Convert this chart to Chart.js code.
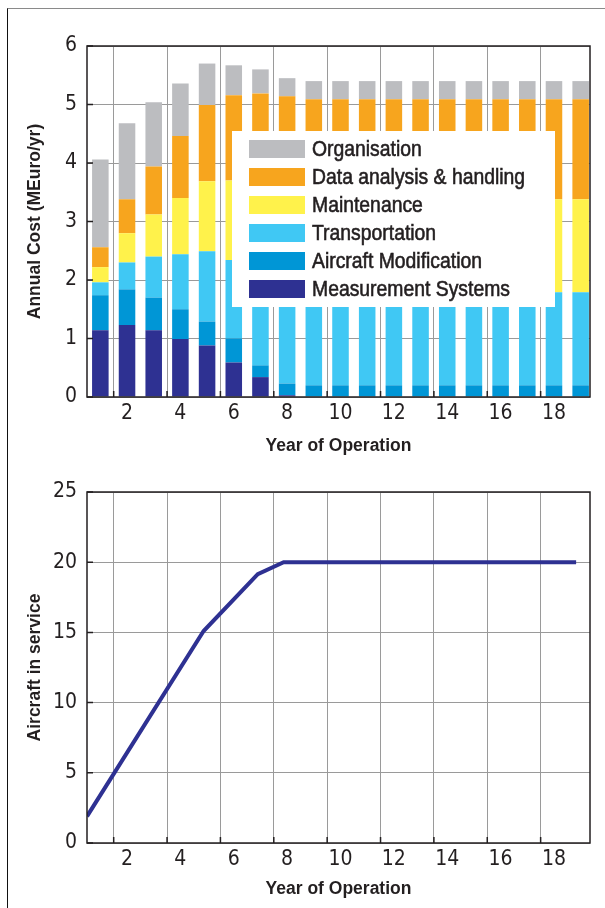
<!DOCTYPE html>
<html>
<head>
<meta charset="utf-8">
<script src="https://cdn.jsdelivr.net/npm/chart.js@4.4.1/dist/chart.umd.min.js"></script>
<style>
  html, body { margin: 0; padding: 0; background: #fff; }
  #page { position: relative; width: 605px; height: 908px; overflow: hidden; background: #fff; }
  #frame { position: absolute; left: 7px; top: 8px; right: -2px; bottom: -2px;
           border-left: 1.5px solid #111; border-top: 1.5px solid #8a8a8a; }
  #costWrap { position: absolute; left: 0; top: 0; width: 605px; height: 465px; }
  #aircraftWrap { position: absolute; left: 0; top: 465px; width: 605px; height: 443px; }
</style>
</head>
<body>
<div id="page">
  <div id="frame"></div>
  <div id="costWrap"><canvas id="costChart" width="605" height="465"></canvas></div>
  <div id="aircraftWrap"><canvas id="aircraftChart" width="605" height="443"></canvas></div>
</div>
<script>
// Year of operation (one bar per year)
const years = [1, 2, 3, 4, 5, 6, 7, 8, 9, 10, 11, 12, 13, 14, 15, 16, 17, 18, 19];

// Annual cost per category, MEuro/yr
const measurementSystems = [1.14, 1.23, 1.14, 0.99, 0.88, 0.59, 0.34, 0.03, 0, 0, 0, 0, 0, 0, 0, 0, 0, 0, 0];
const aircraftModification = [0.60, 0.61, 0.56, 0.51, 0.41, 0.41, 0.20, 0.20, 0.20, 0.20, 0.20, 0.20, 0.20, 0.20, 0.20, 0.20, 0.20, 0.20, 0.20];
const transportation = [0.22, 0.46, 0.70, 0.94, 1.20, 1.34, 1.50, 1.57, 1.59, 1.59, 1.59, 1.59, 1.59, 1.59, 1.59, 1.59, 1.59, 1.59, 1.59];
const maintenance = [0.26, 0.50, 0.72, 0.96, 1.20, 1.36, 1.50, 1.58, 1.59, 1.59, 1.59, 1.59, 1.59, 1.59, 1.59, 1.59, 1.59, 1.59, 1.59];
const dataAnalysis = [0.34, 0.58, 0.82, 1.06, 1.30, 1.46, 1.65, 1.76, 1.71, 1.71, 1.71, 1.71, 1.71, 1.71, 1.71, 1.71, 1.71, 1.71, 1.71];
const organisation = [1.50, 1.30, 1.10, 0.90, 0.71, 0.51, 0.41, 0.31, 0.31, 0.31, 0.31, 0.31, 0.31, 0.31, 0.31, 0.31, 0.31, 0.31, 0.31];

// Aircraft in service (line breakpoints)
const aircraftYears = [0.5, 4.87, 6.9, 7.87, 18.83];
const aircraftCount = [1.9, 15.1, 19.15, 20, 20];

// Axis ticks: grid lines sit half a year before the labelled even years
const gridYears = [1.5, 3.5, 5.5, 7.5, 9.5, 11.5, 13.5, 15.5, 17.5];
const xTickLabels = ['2', '4', '6', '8', '10', '12', '14', '16', '18'];

const TICK_FONT = '"DejaVu Sans Condensed", "Liberation Sans", sans-serif';
const TITLE_FONT = '"Liberation Sans", Arial, sans-serif';
const TEXT = '#231F20';
const GRID = '#9a9a9a';

Chart.defaults.font.family = TICK_FONT;
Chart.defaults.color = TEXT;

// Plot frame plus the short inward tick marks on the left and bottom
const plotFrame = {
    id: 'plotFrame',
    afterDatasetsDraw(chart) {
        const ctx = chart.ctx;
        const a = chart.chartArea;
        const xs = chart.scales.x;
        const ys = chart.scales.y;
        ctx.save();
        ctx.strokeStyle = TEXT;
        ctx.lineWidth = 1.5;
        ctx.beginPath();
        xs.ticks.forEach((t) => {
            const px = xs.getPixelForValue(t.value);
            ctx.moveTo(px, a.bottom);
            ctx.lineTo(px, a.bottom - 6);
        });
        ys.ticks.forEach((t) => {
            const py = ys.getPixelForValue(t.value);
            ctx.moveTo(a.left, py);
            ctx.lineTo(a.left + 6, py);
        });
        ctx.stroke();
        ctx.strokeRect(a.left, a.top, a.right - a.left, a.bottom - a.top);
        ctx.restore();
    },
};

// Legend box drawn inside the plot, top item = top of the stack
const insideLegend = {
    id: 'insideLegend',
    afterDatasetsDraw(chart, args, opts) {
        if (!opts.display) return;
        const ctx = chart.ctx;
        ctx.save();
        ctx.fillStyle = '#fff';
        ctx.fillRect(opts.left, opts.top, opts.width, opts.height);
        ctx.font = opts.fontSize + 'px ' + TITLE_FONT;
        ctx.textBaseline = 'middle';
        const items = chart.data.datasets.slice().reverse();
        items.forEach((ds, i) => {
            const y = opts.top + opts.firstRow + i * opts.rowHeight;
            ctx.fillStyle = ds.backgroundColor;
            ctx.fillRect(opts.left + 17, y - opts.swatchH / 2, opts.swatchW, opts.swatchH);
            // narrow the face a little to get the condensed look of the original
            ctx.save();
            ctx.translate(opts.left + 80, y + 1);
            ctx.scale(opts.squeeze, 1);
            ctx.fillStyle = TEXT;
            ctx.strokeStyle = TEXT;
            ctx.lineWidth = 0.6;
            ctx.fillText(ds.label, 0, 0);
            ctx.strokeText(ds.label, 0, 0);
            ctx.restore();
        });
        ctx.restore();
    },
};

function xAxis(height, labelPad) {
    return {
        type: 'linear',
        min: 0.5,
        max: 19.35,
        offset: false,
        afterBuildTicks: (s) => { s.ticks = gridYears.map((v) => ({ value: v })); },
        afterFit: (s) => { s.height = height; },
        grid: { color: GRID, lineWidth: 1, drawTicks: false, offset: false },
        border: { display: false },
        ticks: {
            autoSkip: false,
            maxRotation: 0,
            padding: labelPad,
            labelOffset: 13.3,
            font: { size: 21 },
            callback: (v, i) => xTickLabels[i],
        },
        title: {
            display: true,
            text: 'Year of Operation',
            font: { family: TITLE_FONT, size: 17.5, weight: 'bold' },
            padding: { top: 0, bottom: 8 },
        },
    };
}

function yAxis(max, step, titleText) {
    return {
        min: 0,
        max: max,
        afterFit: (s) => { s.width = 87; },
        grid: { color: GRID, lineWidth: 1, drawTicks: false },
        border: { display: false },
        ticks: { stepSize: step, padding: 10, font: { size: 21 } },
        title: {
            display: true,
            text: titleText,
            font: { family: TITLE_FONT, size: 17.5, weight: 'bold' },
            padding: { top: 25, bottom: 0 },
        },
    };
}

function initializeCostChart() {
    const ctx = document.getElementById('costChart').getContext('2d');
    const bar = (label, data, color) => ({
        label: label,
        data: data,
        backgroundColor: color,
        borderWidth: 0,
        barPercentage: 0.62,
        categoryPercentage: 1,
    });
    const xs = xAxis(68, 4);
    xs.stacked = true;
    const ys = yAxis(6, 1, 'Annual Cost (MEuro/yr)');
    ys.stacked = true;

    new Chart(ctx, {
        type: 'bar',
        data: {
            labels: years,
            datasets: [
                bar('Measurement Systems', measurementSystems, '#2E3192'),
                bar('Aircraft Modification', aircraftModification, '#0096D6'),
                bar('Transportation', transportation, '#40C8F4'),
                bar('Maintenance', maintenance, '#FFF24B'),
                bar('Data analysis & handling', dataAnalysis, '#F7A51E'),
                bar('Organisation', organisation, '#BCBDC0'),
            ],
        },
        options: {
            responsive: false,
            animation: false,
            layout: { padding: { top: 46, right: 15, left: 0, bottom: 0 } },
            plugins: {
                legend: { display: false },
                tooltip: { enabled: false },
                insideLegend: {
                    display: true, left: 232, top: 131, width: 323, height: 176,
                    firstRow: 18, rowHeight: 28, swatchW: 56, swatchH: 18,
                    fontSize: 22, squeeze: 0.88,
                },
            },
            scales: { x: xs, y: ys },
        },
        plugins: [plotFrame, insideLegend],
    });
}

function initializeAircraftChart() {
    const ctx = document.getElementById('aircraftChart').getContext('2d');
    new Chart(ctx, {
        type: 'line',
        data: {
            datasets: [{
                label: 'Aircraft in service',
                data: aircraftYears.map((x, i) => ({ x: x, y: aircraftCount[i] })),
                borderColor: '#2E3192',
                borderWidth: 4,
                pointRadius: 0,
                tension: 0,
            }],
        },
        options: {
            responsive: false,
            animation: false,
            layout: { padding: { top: 27, right: 15, left: 0, bottom: 0 } },
            plugins: {
                legend: { display: false },
                tooltip: { enabled: false },
                insideLegend: { display: false },
            },
            scales: {
                x: xAxis(65, 4),
                y: yAxis(25, 5, 'Aircraft in service'),
            },
        },
        plugins: [plotFrame, insideLegend],
    });
}

document.addEventListener('DOMContentLoaded', () => {
    initializeCostChart();
    initializeAircraftChart();
});
</script>
</body>
</html>
